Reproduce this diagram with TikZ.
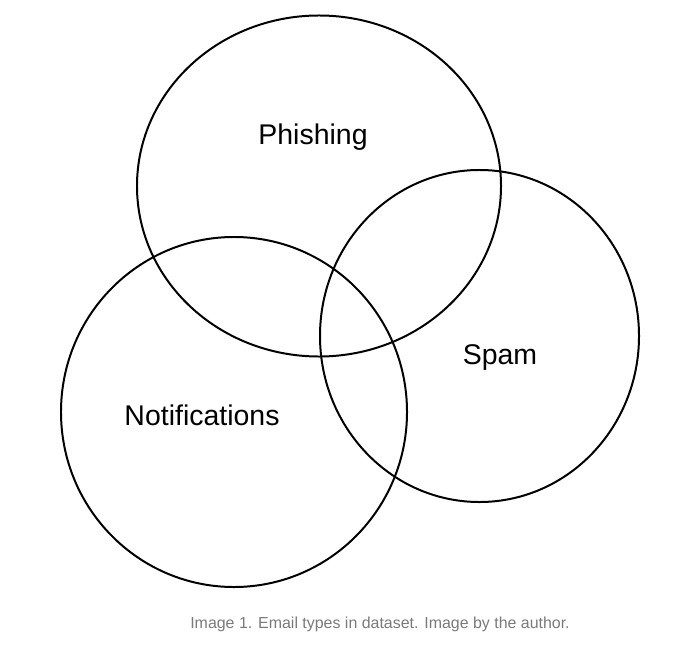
\documentclass[tikz,border=0pt]{standalone}
\usepackage{fontspec}
\setmainfont{Liberation Sans}
\usepackage{tikz}
\usetikzlibrary{shapes.geometric}

\begin{document}
\begin{tikzpicture}[x=0.03cm,y=-0.03cm,
    venn/.style={draw,ellipse,line width=1.7pt,inner sep=0pt},
    setlabel/.style={font=\fontsize{24.3}{28}\selectfont},
    caption/.style={font=\fontsize{13.6}{16}\selectfont,text=black!52}]
            \useasboundingbox (0,0) rectangle (678,647); % Frame

            \node[venn,minimum width=10.92cm,minimum height=10.23cm] (phishing) at (319,186) {};
            \node[venn,minimum width=9.57cm,minimum height=9.96cm] (spam) at (479.5,336) {};
            \node[venn,minimum width=10.38cm,minimum height=10.5cm] (notif) at (234,412) {};

            \node[setlabel] (phishinglabel) at (313,137) {Phishing}; % Labels
            \node[setlabel] (spamlabel) at (500,358) {Spam};
            \node[setlabel] (notiflabel) at (202,415) {Notifications};

            \node[caption] (cap) at (380,624) {Image 1. Email types in dataset. Image by the author.};
        \end{tikzpicture}
\end{document}
